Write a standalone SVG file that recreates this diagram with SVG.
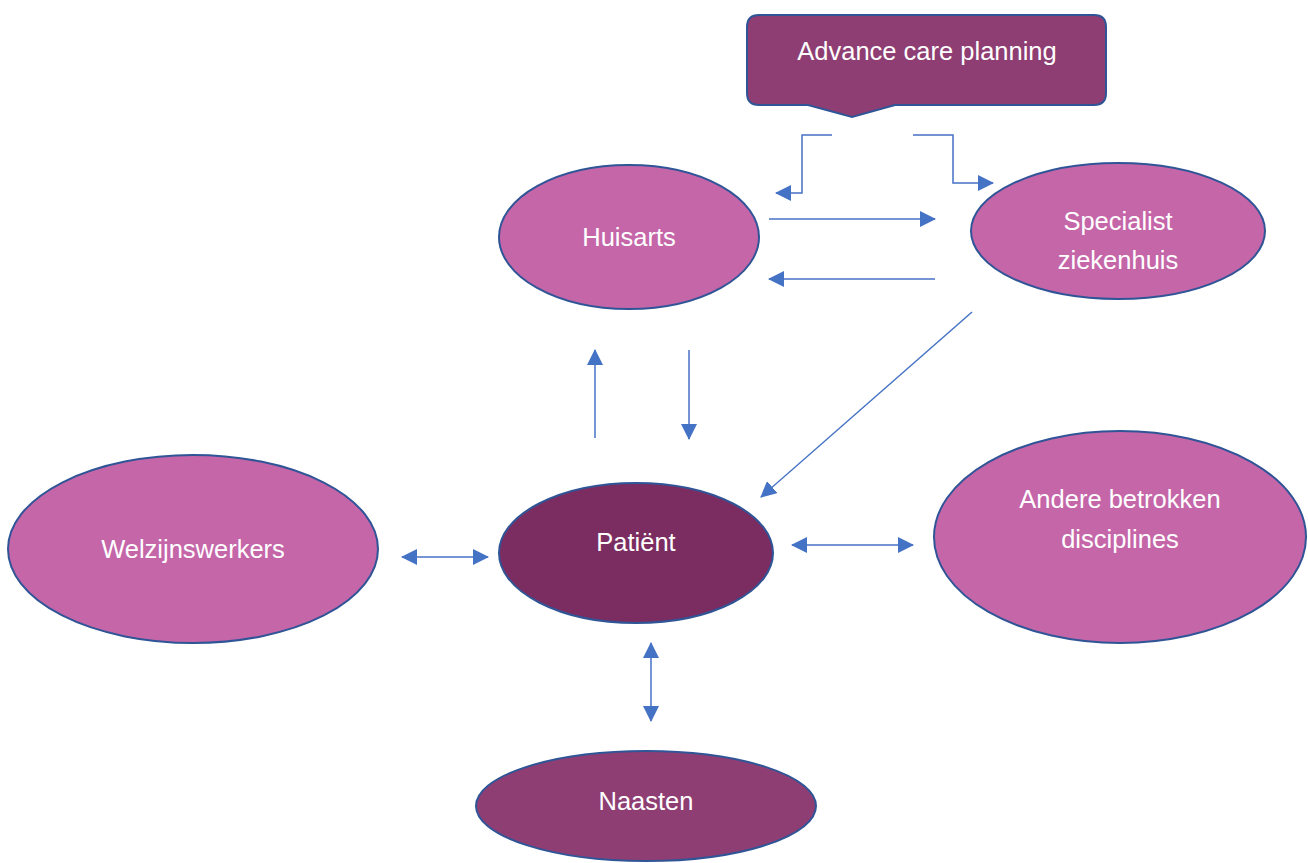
<svg xmlns="http://www.w3.org/2000/svg" width="1308" height="863" viewBox="0 0 1308 863">
<defs>
<marker id="ah" markerUnits="userSpaceOnUse" markerWidth="16" markerHeight="16" refX="15" refY="8" orient="auto-start-reverse" viewBox="0 0 16 16">
<path d="M0,0 L16,8 L0,16 Z" fill="#4472C4"/>
</marker>
<style>
.light{fill:#C566A9;stroke:#2F5597;stroke-width:2}
.mid{fill:#8E3E73;stroke:#2F5597;stroke-width:2}
.dark{fill:#7B2D62;stroke:#2F5597;stroke-width:2}
text{font-family:"Liberation Sans",Arial,sans-serif;fill:#ffffff;font-size:25.5px;text-anchor:middle}
.c{fill:none;stroke:#4472C4;stroke-width:1.5}
</style>
</defs>
<rect width="1308" height="863" fill="#ffffff"/>
<g id="acp">
<path class="mid" d="M759,15 H1094 Q1106,15 1106,27 V93 Q1106,105 1094,105 H895 L852,117 L808,105 H759 Q747,105 747,93 V27 Q747,15 759,15 Z"/>
<text x="927" y="60">Advance care planning</text>
</g>
<g id="huisarts">
<ellipse class="light" cx="629" cy="237" rx="130" ry="72"/>
<text x="629" y="246">Huisarts</text>
</g>
<g id="specialist">
<ellipse class="light" cx="1118" cy="231" rx="147" ry="68"/>
<text x="1118" y="230">Specialist</text>
<text x="1118" y="269">ziekenhuis</text>
</g>
<g id="welzijnswerkers">
<ellipse class="light" cx="193" cy="549" rx="185" ry="94"/>
<text x="193" y="558">Welzijnswerkers</text>
</g>
<g id="patient">
<ellipse class="dark" cx="636" cy="553" rx="137" ry="70"/>
<text x="636" y="551">Patiënt</text>
</g>
<g id="andere">
<ellipse class="light" cx="1120" cy="537" rx="186" ry="106"/>
<text x="1120" y="508">Andere betrokken</text>
<text x="1120" y="548">disciplines</text>
</g>
<g id="naasten">
<ellipse class="mid" cx="646" cy="806" rx="170" ry="55"/>
<text x="646" y="810">Naasten</text>
</g>
<g id="connectors">
<polyline class="c" points="832,135 802,135 802,193 776,193" marker-end="url(#ah)"/>
<polyline class="c" points="913,135 953,135 953,183 993,183" marker-end="url(#ah)"/>
<line class="c" x1="769" y1="219" x2="935" y2="219" marker-end="url(#ah)"/>
<line class="c" x1="935" y1="279" x2="769" y2="279" marker-end="url(#ah)"/>
<line class="c" x1="595" y1="438" x2="595" y2="350" marker-end="url(#ah)"/>
<line class="c" x1="689" y1="350" x2="689" y2="439" marker-end="url(#ah)"/>
<line class="c" x1="972" y1="312" x2="761" y2="497" marker-end="url(#ah)"/>
<line class="c" x1="402" y1="557" x2="488" y2="557" marker-start="url(#ah)" marker-end="url(#ah)"/>
<line class="c" x1="792" y1="545" x2="913" y2="545" marker-start="url(#ah)" marker-end="url(#ah)"/>
<line class="c" x1="651" y1="643" x2="651" y2="721" marker-start="url(#ah)" marker-end="url(#ah)"/>
</g>
</svg>
